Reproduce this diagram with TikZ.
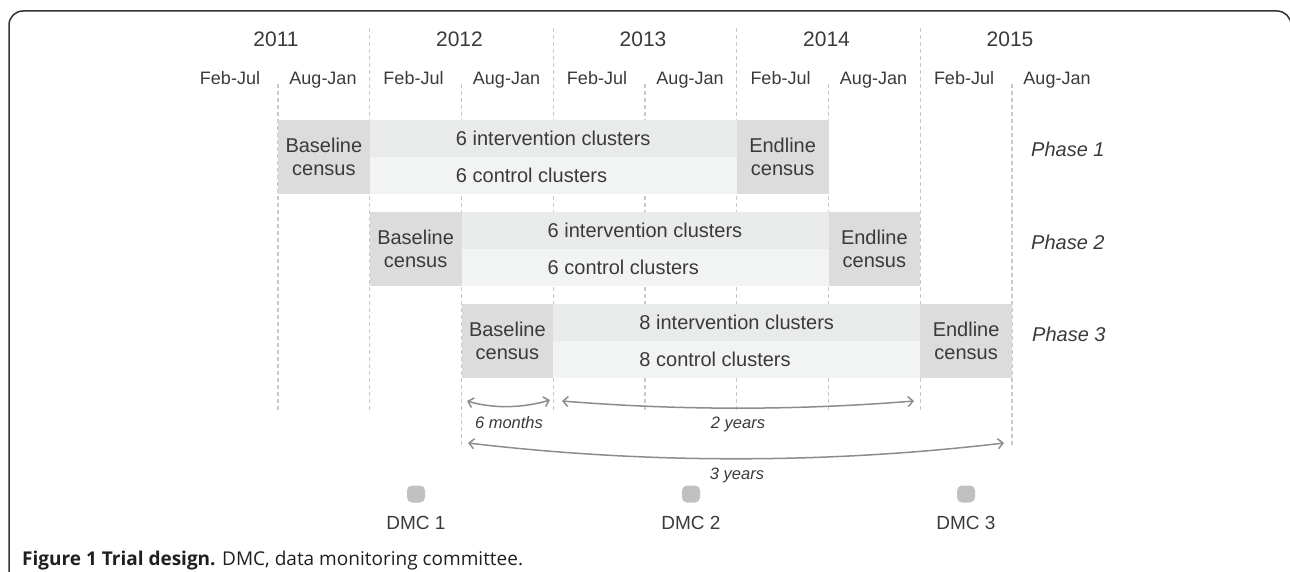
\documentclass[tikz,border=0pt]{standalone}
\usepackage{fontspec}
\setmainfont{Liberation Sans}
\newfontfamily\capfont{Open Sans}
\usetikzlibrary{arrows.meta}
\definecolor{txt}{HTML}{3A3A3A}
\definecolor{gridcol}{HTML}{C8C8C8}
\definecolor{census}{HTML}{DCDCDD}
\definecolor{intv}{HTML}{E9EAEA}
\definecolor{ctrl}{HTML}{F2F3F3}
\definecolor{arrowgray}{HTML}{8C8C8C}
\definecolor{dmccol}{HTML}{C0C0C0}
\definecolor{framecol}{HTML}{333333}
\newcommand{\lefttext}[2]{\rlap{#1}\phantom{#2}}
\begin{document}
\begin{tikzpicture}[x=1pt,y=-1pt,
  every node/.style={inner sep=0pt, text=txt},
  yearlbl/.style={font=\fontsize{21}{24}\selectfont, anchor=base},
  halflbl/.style={font=\fontsize{18}{21}\selectfont, anchor=base},
  gridline/.style={draw=gridcol, line width=1.2pt, dash pattern=on 4pt off 3pt},
  censusbox/.style={fill=census, minimum width=91.75pt, minimum height=74pt, align=center, font=\fontsize{20}{23}\selectfont},
  intband/.style={fill=intv, minimum width=367pt, minimum height=37pt, font=\fontsize{20}{23}\selectfont},
  ctlband/.style={fill=ctrl, minimum width=367pt, minimum height=37pt, font=\fontsize{20}{23}\selectfont},
  phaselbl/.style={font=\fontsize{20}{23}\selectfont\itshape, anchor=base west},
  span/.style={draw=arrowgray, line width=1.5pt, arrows={Straight Barb[length=5pt,width=10pt]-Straight Barb[length=5pt,width=10pt]}},
  spanlbl/.style={font=\fontsize{16.5}{19}\selectfont\itshape, anchor=base},
  dmcmark/.style={fill=dmccol, rounded corners=5pt, minimum width=18pt, minimum height=17pt},
  dmclbl/.style={font=\fontsize{19}{22}\selectfont, anchor=base},
]
\useasboundingbox (0,0) rectangle (1290,572);
% frame
\draw[framecol, line width=1.5pt, rounded corners=14pt] (9,585) -- (9,11) -- (1291,11) -- (1291,585);
% headers
\foreach \yr [count=\i from 0] in {2011,2012,2013,2014,2015}
  \node[yearlbl] (y\yr) at (276+183.5*\i,47) {\yr};
\foreach \i in {0,...,4} {
  \node[halflbl] (fj\i) at (230+183.5*\i,85) {Feb-Jul};
  \node[halflbl] (aj\i) at (323+183.5*\i,85) {Aug-Jan};
}
% grid lines
\foreach \gx in {369.75,553.25,736.75,920.25}
  \draw[gridline] (\gx,28) -- (\gx,413);
\foreach \gx in {278,645,828.5}
  \draw[gridline] (\gx,84) -- (\gx,413);
\foreach \gx in {461.5,1012}
  \draw[gridline] (\gx,84) -- (\gx,447);
% phase 1
\node[censusbox] (b1) at (323.875,157) {Baseline\\census};
\node[intband] (i1) at (553.25,138.5) {6 intervention clusters};
\node[ctlband] (c1) at (553.25,175.5) {\lefttext{6 control clusters}{6 intervention clusters}};
\node[censusbox] (e1) at (782.625,157) {Endline\\census};
\node[phaselbl] (p1) at (1031,157) {Phase 1};
% phase 2
\node[censusbox] (b2) at (415.625,249) {Baseline\\census};
\node[intband] (i2) at (645,230.5) {6 intervention clusters};
\node[ctlband] (c2) at (645,267.5) {\lefttext{6 control clusters}{6 intervention clusters}};
\node[censusbox] (e2) at (874.375,249) {Endline\\census};
\node[phaselbl] (p2) at (1031,249) {Phase 2};
% phase 3
\node[censusbox] (b3) at (507.375,341) {Baseline\\census};
\node[intband] (i3) at (736.75,322.5) {8 intervention clusters};
\node[ctlband] (c3) at (736.75,359.5) {\lefttext{8 control clusters}{8 intervention clusters}};
\node[censusbox] (e3) at (966.125,341) {Endline\\census};
\node[phaselbl] (p3) at (1032,341) {Phase 3};
% spans
\coordinate (s6a) at (467,401); \coordinate (s6b) at (550,400);
\draw[span] (s6a) .. controls +(27,8) and +(-27,8) .. (s6b);
\coordinate (s2a) at (562,401); \coordinate (s2b) at (914,401);
\draw[span] (s2a) .. controls +(117,9.5) and +(-117,9.5) .. (s2b);
\coordinate (s3a) at (468,443); \coordinate (s3b) at (1004,443);
\draw[span] (s3a) .. controls +(178,21) and +(-178,21) .. (s3b);
\node[spanlbl] (l6) at (509,428) {6 months};
\node[spanlbl] (l2) at (738,428) {2 years};
\node[spanlbl] (l3) at (737,479) {3 years};
% DMC
\node[dmcmark] (d1) at (416,494) {};
\node[dmcmark] (d2) at (691,494) {};
\node[dmcmark] (d3) at (966,494) {};
\node[dmclbl] (t1) at (416,529) {DMC 1};
\node[dmclbl] (t2) at (691,529) {DMC 2};
\node[dmclbl] (t3) at (966,529) {DMC 3};
% caption
\node[anchor=base west, text=black!88] (cap) at (22,565) {\capfont\fontsize{19}{22}\selectfont\textbf{Figure 1 Trial design.} DMC, data monitoring committee.};
\end{tikzpicture}
\end{document}
